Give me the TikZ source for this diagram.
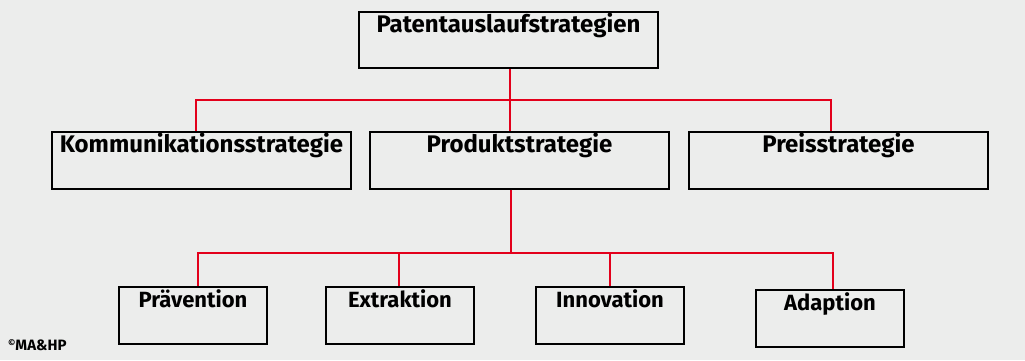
\documentclass[tikz,border=0pt]{standalone}
\usepackage{fontspec}
\setmainfont{Fira Sans}
\usepackage{tikz}
\usetikzlibrary{positioning, calc}
\definecolor{bggray}{RGB}{236,237,236}
\definecolor{linkred}{RGB}{227,0,27}
\tikzset{
  stratbox/.style={rectangle, draw=black, line width=2pt, inner sep=0pt, minimum width=299pt, text height=20pt, text depth=36.5pt, font=\fontsize{24}{26}\selectfont\bfseries},
  subbox/.style={rectangle, draw=black, line width=2pt, inner sep=0pt, minimum width=148pt, text height=20pt, text depth=36.5pt, font=\fontsize{22}{24}\selectfont\bfseries},
  link/.style={draw=linkred, line width=2pt}
}
\begin{document}
\begin{tikzpicture}[x=1pt, y=-1pt]
            \fill[bggray] (0,0) rectangle (1025,360);
            \useasboundingbox (0,0) rectangle (1025,360);

            \node (patent) [stratbox, anchor=north west, text depth=36pt] at (358,11) {Patentauslaufstrategien};

            % Zweite Ebene
            \node (komm) [stratbox, anchor=north west] at (51,131) {Kommunikationsstrategie};
            \node (produkt) [stratbox, right=17pt of komm] {Produktstrategie};
            \node (preis) [stratbox, right=18pt of produkt] {Preisstrategie};

            % Dritte Ebene (unter Produktstrategie)
            \node (praev) [subbox, anchor=north west] at (118,286) {Prävention};
            \node (extr) [subbox, right=57pt of praev] {Extraktion};
            \node (innov) [subbox, right=60pt of extr] {Innovation};
            \node (adapt) [subbox, right=70pt of innov, yshift=-3pt] {Adaption};

            \node (copy) [anchor=base west, inner sep=0pt, font=\fontsize{15}{16}\selectfont\bfseries] at (8,350) {\raisebox{3.5pt}{\fontsize{9}{9}\selectfont ©}MA\&HP};

            % Verbindungen
            \coordinate (bus1) at (510,100);
            \coordinate (bus2) at (511,253);
            \draw [link] (patent.south -| bus1) -- (bus1);
            \draw [link] ([xshift=-5.5pt]komm.north) |- (bus1) -| ([xshift=-7.5pt]preis.north);
            \draw [link] (bus1) -- (produkt.north -| bus1);

            \draw [link] (produkt.south -| bus2) -- (bus2);
            \draw [link] ([xshift=5pt]praev.north) |- (bus2) -| ([xshift=3pt]adapt.north);
            \draw [link] ([xshift=-1pt]extr.north) -- ([xshift=-1pt]extr.north |- bus2);
            \draw [link] (innov.north) -- (innov.north |- bus2);

        \end{tikzpicture}
\end{document}
